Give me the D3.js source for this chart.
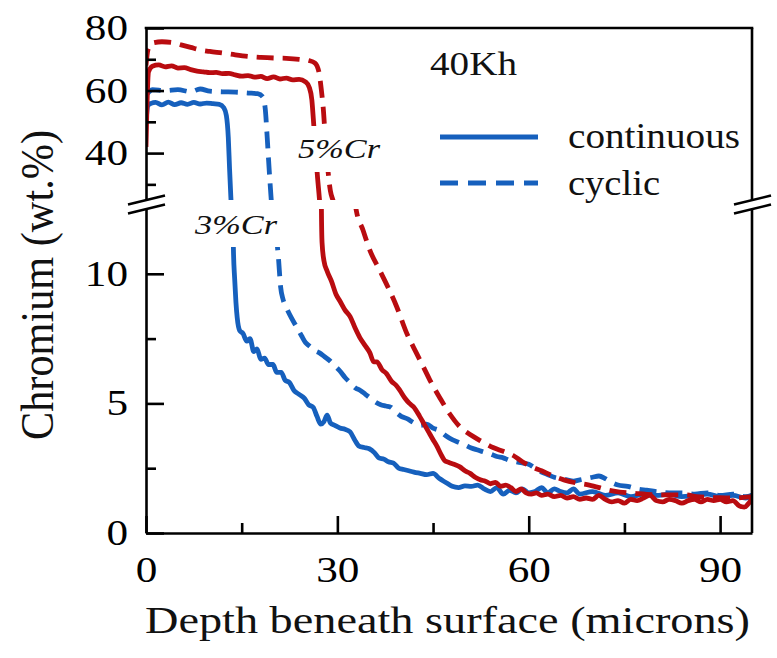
<!DOCTYPE html>
<html><head><meta charset="utf-8">
<script src="https://cdn.jsdelivr.net/npm/d3@7"></script>
<style>body{margin:0;background:#fff}svg{display:block}
text{font-family:"Liberation Serif","Times New Roman",Times,serif}</style>
</head><body><svg id="c" width="777" height="658"></svg>
<script>
// ---- data ----
const xTicks = [0, 30, 60, 90], xMinor = [15, 45, 75];
const yLowTicks = [0, 5, 10], yLowMinor = [2.5, 7.5];
const yHighTicks = [40, 60, 80], yHighMinor = [30, 50, 70];
const legendLabels = ["continuous", "cyclic"];
const alloyLabels = ["3%Cr", "5%Cr"];
const timeLabel = "40Kh";

const cr3Continuous = [[0,50],[0.3,55.2],[0.8,55.9],[1.5,56.2],[2.5,55.4],[3.5,56.3],[4.5,55.5],[5.5,56.1],[6.5,55.6],[7.5,56.2],[8.5,55.7],[9.5,56.0],[10.5,55.8],[11.5,55.6],[12.2,54.5],[12.6,52],[12.9,45],[13.1,35],[13.3,26],[13.5,18],[13.7,11],[13.9,9.8],[14.1,8.9],[14.3,8.3],[14.7,7.8],[15.2,7.7],[15.8,7.4],[16.3,7.5],[16.9,7.0],[17.4,7.1],[18.0,6.7],[18.6,6.75],[19.2,6.5],[19.9,6.5],[20.5,6.2],[21.2,6.2],[21.8,5.9],[22.5,5.8],[23.2,5.5],[24.0,5.35],[24.8,5.2],[25.5,4.95],[26.2,4.85],[26.8,4.5],[27.4,4.2],[27.9,4.3],[28.4,4.55],[28.9,4.25],[29.6,4.15],[30.4,4.05],[31.2,4.0],[32.0,3.9],[32.7,3.6],[33.4,3.35],[34.2,3.3],[35.0,3.25],[35.8,3.1],[36.5,2.9],[37.3,2.85],[38.0,2.75],[38.8,2.7],[39.6,2.5],[40.4,2.45],[41.2,2.4],[42.0,2.35],[43.0,2.3],[44.0,2.25],[45.0,2.3],[46.0,2.1],[47.0,1.95],[48.0,1.8],[49.0,1.75],[50.0,1.82],[51.0,1.8],[52.0,1.85],[53.0,1.7],[54.0,1.6],[55.0,1.75],[56.0,1.5],[57.0,1.65],[58.0,1.55],[59.0,1.7],[60.0,1.55],[61.0,1.6],[62.0,1.75],[63.0,1.55],[64.0,1.7],[65.0,1.6],[66.0,1.55],[67.0,1.7],[68.0,1.5],[70,1.6],[72,1.45],[74,1.55],[76,1.4],[78,1.5],[80,1.45],[82,1.5],[84,1.4],[86,1.45],[88,1.5],[90,1.4],[92,1.45],[94,1.35],[95,1.45]];
const cr3Cyclic = [[0,58.5],[0.5,59.6],[1,60.3],[3,60.0],[5,60.3],[7,59.6],[8.5,60.5],[10,59.8],[12,59.6],[14,59.5],[16,59.2],[17.5,59.0],[18.3,58],[18.7,54],[19.0,45],[19.3,35],[19.6,26],[19.9,18],[20.5,11.5],[20.8,10.5],[21.1,9.5],[21.5,9.0],[22.0,8.7],[22.8,8.3],[23.6,7.95],[24.4,7.6],[25.0,7.35],[25.7,7.2],[26.4,7.05],[27.2,6.95],[28.0,6.8],[28.8,6.65],[29.6,6.45],[30.4,6.25],[31.2,6.0],[32.0,5.8],[32.8,5.6],[33.6,5.5],[34.4,5.35],[35.2,5.2],[36.0,5.05],[36.8,4.95],[37.6,4.9],[38.4,4.85],[39.2,4.65],[40.0,4.5],[41.0,4.4],[42.0,4.25],[43.0,4.15],[44.0,4.2],[45.0,4.05],[46.0,3.95],[47.0,3.75],[48.0,3.6],[49.0,3.5],[50.0,3.4],[51.0,3.28],[52.0,3.2],[53.0,3.12],[54.0,3.05],[55.0,2.95],[56.0,2.9],[57.0,2.8],[58.0,2.75],[59.0,2.7],[60.0,2.65],[61.0,2.5],[62.0,2.35],[63.0,2.25],[64.0,2.15],[65.0,2.1],[66.0,2.05],[67.0,2.0],[68.0,2.05],[69.0,2.1],[70.0,2.15],[71.0,2.2],[72.0,2.1],[73.0,1.95],[74.0,1.85],[75.5,1.8],[77,1.7],[78.5,1.65],[80,1.6],[82,1.55],[84,1.55],[86,1.5],[88,1.55],[90,1.45],[92,1.5],[94,1.4],[95,1.45]];
const cr5Continuous = [[0,42],[0.15,55],[0.4,66],[1,67.8],[2,68.2],[3,67.6],[4,67.9],[5,67.2],[6,67.3],[7,66.7],[8,66.2],[9,66.0],[10,65.7],[11,65.8],[12,65.4],[13,65.5],[14,65.0],[15,64.6],[16,64.8],[17,64.3],[18,64.5],[19,63.8],[20,64.4],[21,63.7],[22,64.0],[23,63.4],[24,63.6],[25,62.8],[25.6,61],[26.0,57],[26.3,49],[26.6,40],[26.9,32],[27.2,25],[27.4,19],[27.5,12.5],[27.6,11.2],[27.9,10.5],[28.4,10.1],[29.1,9.7],[29.8,9.2],[30.4,8.95],[31.2,8.6],[32.0,8.35],[32.8,7.9],[33.5,7.55],[34.3,7.25],[35.1,6.95],[35.7,6.6],[36.2,6.6],[37.0,6.3],[37.7,6.15],[38.5,5.85],[39.2,5.7],[39.8,5.5],[40.6,5.2],[41.3,5.0],[42.0,4.85],[42.9,4.5],[43.6,4.2],[44.3,3.9],[45.0,3.6],[45.6,3.35],[46.2,3.05],[46.8,2.8],[47.5,2.72],[48.3,2.65],[49.2,2.55],[50.0,2.4],[50.8,2.3],[51.6,2.15],[52.4,2.05],[53.2,2.0],[54.0,1.9],[54.8,1.95],[55.6,1.8],[56.4,1.85],[57.2,1.75],[58.0,1.6],[58.8,1.7],[59.6,1.55],[60.4,1.5],[61.2,1.55],[62.0,1.45],[63,1.5],[64,1.4],[65,1.45],[66,1.35],[67,1.4],[68,1.3],[69,1.35],[70,1.3],[71,1.45],[72,1.3],[73,1.2],[74,1.25],[75,1.15],[76,1.3],[77,1.25],[78,1.35],[79,1.45],[80,1.25],[81,1.2],[82,1.3],[83,1.25],[84,1.15],[85,1.25],[86,1.3],[87,1.2],[88,1.3],[89,1.25],[90,1.3],[91,1.2],[92,1.25],[93,1.05],[93.8,1.0],[94.5,1.15],[95,1.3]];
const cr5Cyclic = [[0,68],[0.3,73],[1,75.2],[2.5,75.6],[4,75.4],[5.5,74.6],[7,73.8],[8.5,73.0],[10,72.5],[12,72.0],[14,71.4],[16,70.9],[18,70.6],[20,70.4],[22,70.3],[24,70.0],[25.5,69.6],[26.5,68.8],[27.1,66],[27.5,60],[27.8,54],[28.1,45],[28.5,35],[28.9,28],[29.3,25],[33.0,12.4],[34.0,11.7],[35.1,10.9],[36.5,10.2],[37.9,9.5],[39.3,8.73],[40.8,7.75],[42.4,6.94],[43.5,6.4],[44.5,5.9],[46.1,5.2],[47.6,4.6],[49.2,4.1],[50.8,3.8],[52.5,3.55],[54.4,3.3],[56.0,3.15],[57.5,3.0],[59.0,2.75],[60.5,2.55],[62.0,2.4],[63.8,2.2],[65.5,2.05],[67.5,1.93],[69.5,1.85],[71.1,1.75],[72.5,1.65],[74.3,1.58],[76.3,1.54],[79.4,1.48],[81,1.47],[84.7,1.47],[86.3,1.4],[89.9,1.36],[92,1.35],[94.6,1.39],[95,1.4]];

const BLUE = "#1660bd", RED = "#b90c10";
const series = [
  {data: cr3Continuous, color: BLUE, dash: null},
  {data: cr3Cyclic, color: BLUE, dash: "17,9"},
  {data: cr5Continuous, color: RED, dash: null},
  {data: cr5Cyclic, color: RED, dash: "17,9"}
];

// ---- layout ----
const L = 146, R = 752, T = 28, B = 533;
const breakHi = 200, breakLo = 209;
const SX = 1.2;

const svg = d3.select("#c");
svg.append("rect").attr("width",777).attr("height",658).attr("fill","#fff");

const x = d3.scaleLinear().domain([0, 95]).range([L, R]);
const yLow = d3.scaleLinear().domain([0, 12.5]).range([B, breakLo]);
const yHigh = d3.scaleLinear().domain([25, 80]).range([breakHi, T]);

const defs = svg.append("defs");
defs.append("clipPath").attr("id","clipHi").append("rect")
  .attr("x", L).attr("y", T).attr("width", R - L).attr("height", breakHi - T);
defs.append("clipPath").attr("id","clipLo").append("rect")
  .attr("x", L).attr("y", breakLo).attr("width", R - L).attr("height", B - breakLo);

const panels = [{scale: yHigh, clip: "clipHi"}, {scale: yLow, clip: "clipLo"}];
panels.forEach(p => {
  const line = d3.line().x(d => x(d[0])).y(d => p.scale(d[1])).curve(d3.curveMonotoneX);
  const g = svg.append("g").attr("clip-path", `url(#${p.clip})`);
  series.forEach(s => {
    g.append("path").attr("d", line(s.data))
      .attr("fill","none").attr("stroke", s.color).attr("stroke-width", 4.8)
      .attr("stroke-linejoin","round")
      .attr("stroke-dasharray", s.dash);
  });
});

function stretchedText(g, txt, px, py, size, len, opts={}) {
  const t = g.append("text").attr("x", px).attr("y", py)
    .style("font-size", size + "px").attr("fill","#111")
    .attr("textLength", len).attr("lengthAdjust","spacingAndGlyphs").text(txt);
  if (opts.italic) t.style("font-style","italic");
  if (opts.anchor) t.attr("text-anchor", opts.anchor);
  return t;
}
const ann = svg.append("g");
ann.append("rect").attr("x",188).attr("y",201).attr("width",96).attr("height",46).attr("fill","#fff");
ann.append("rect").attr("x",292).attr("y",126).attr("width",96).attr("height",46).attr("fill","#fff");
stretchedText(ann, alloyLabels[0], 195, 234, 28, 82, {italic:true});
stretchedText(ann, alloyLabels[1], 298, 158, 28, 82, {italic:true});

// ---- axes ----
function styleAxis(g){
  g.attr("font-family", null).attr("font-size", null);
  g.selectAll("path.domain").attr("stroke","#000").attr("stroke-width",2.6);
  g.selectAll(".tick line").attr("stroke","#000").attr("stroke-width",2.6);
  g.selectAll(".tick text").attr("fill","#000").style("font-size","36px");
}
const gx = svg.append("g").attr("transform",`translate(0,${B})`)
  .call(d3.axisBottom(x).tickValues(xTicks).tickSizeInner(-17).tickSizeOuter(0).tickPadding(23).tickFormat(d3.format("d")));
styleAxis(gx);
gx.selectAll(".tick text").attr("transform",`scale(${SX},1)`);
const gxm = svg.append("g").attr("transform",`translate(0,${B})`)
  .call(d3.axisBottom(x).tickValues(xMinor).tickSizeInner(-10).tickSizeOuter(0).tickFormat(""));
styleAxis(gxm); gxm.select("path.domain").remove();

[[yHigh, yHighTicks, yHighMinor],[yLow, yLowTicks, yLowMinor]].forEach(([sc, major, minor]) => {
  const ga = svg.append("g").attr("transform",`translate(${L},0)`)
    .call(d3.axisLeft(sc).tickValues(major).tickSizeInner(-18).tickSizeOuter(0).tickPadding(18).tickFormat(d3.format("d")));
  styleAxis(ga);
  ga.selectAll(".tick text").attr("x", -18 / SX).attr("transform",`scale(${SX},1)`);
  const gm = svg.append("g").attr("transform",`translate(${L},0)`)
    .call(d3.axisLeft(sc).tickValues(minor).tickSizeInner(-10).tickSizeOuter(0).tickFormat(""));
  styleAxis(gm); gm.select("path.domain").remove();
  const r = sc.range();
  svg.append("line").attr("x1",R).attr("x2",R).attr("y1",r[0]).attr("y2",r[1])
    .attr("stroke","#000").attr("stroke-width",2.6);
});
svg.append("line").attr("x1",L-1.3).attr("x2",R+1.3).attr("y1",T).attr("y2",T)
  .attr("stroke","#000").attr("stroke-width",2.6);

// break marks
[L, R].forEach(cx => {
  [breakHi, breakLo].forEach(cy => {
    svg.append("line").attr("x1", cx-18).attr("y1", cy+4.5).attr("x2", cx+19).attr("y2", cy-4.5)
      .attr("stroke","#000").attr("stroke-width",2.4);
  });
});

// ---- titles ----
stretchedText(svg, "Depth beneath surface (microns)", 145, 633, 38, 605);
svg.append("text")
  .attr("transform", `translate(53,285) scale(1.13,1) rotate(-90)`)
  .attr("text-anchor","middle").style("font-size","42px").attr("fill","#111")
  .attr("textLength", 310).attr("lengthAdjust","spacingAndGlyphs")
  .text("Chromium (wt.%)");

// ---- legend ----
stretchedText(svg, timeLabel, 430, 75, 34, 87);
const lg = svg.append("g");
[137, 183].forEach((ly, i) => {
  lg.append("line").attr("x1",440).attr("x2",538).attr("y1",ly).attr("y2",ly)
    .attr("stroke",BLUE).attr("stroke-width",5)
    .attr("stroke-dasharray", i ? "18,10" : null);
});
stretchedText(lg, legendLabels[0], 568, 148, 36, 172);
stretchedText(lg, legendLabels[1], 568, 195, 36, 92);
</script></body></html>
